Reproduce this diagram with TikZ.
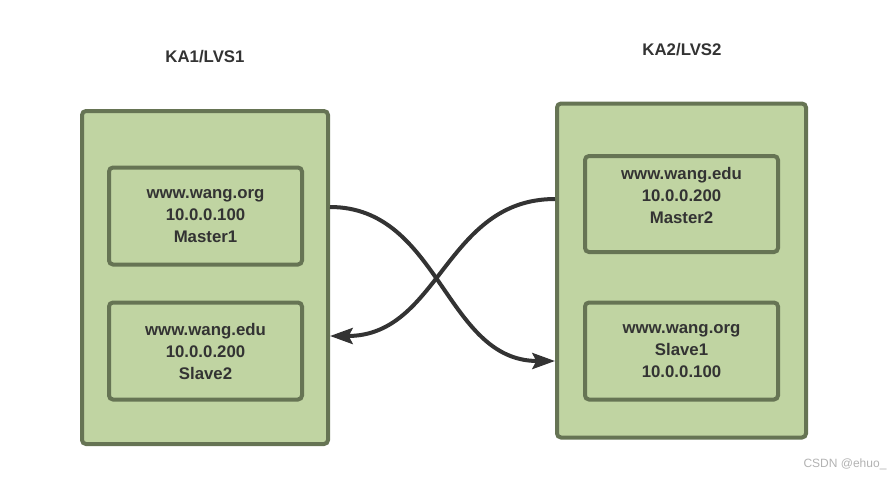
\documentclass[tikz,border=0pt]{standalone}
\usepackage{fontspec}
\setmainfont{Liberation Sans}
\usetikzlibrary{arrows.meta, positioning, calc}
\definecolor{BoxFill}{HTML}{C0D4A2}
\definecolor{BoxLine}{HTML}{667454}
\definecolor{TextGray}{HTML}{333333}
\definecolor{LinkGray}{HTML}{333333}

\begin{document}
\begin{tikzpicture}[>={Stealth[length=17pt, width=12pt, inset=3pt]}, x=0.75pt, y=-0.75pt,
    outer/.style={draw=BoxLine, fill=BoxFill, line width=3pt, rounded corners=3pt},
    inner/.style={draw=BoxLine, fill=BoxFill, line width=3pt, rounded corners=3pt,
        align=center, text=TextGray, font=\bfseries\fontsize{12.6}{16.5}\selectfont},
    innertext/.style={align=center, text=TextGray, inner sep=0pt, font=\bfseries\fontsize{12.6}{16.5}\selectfont},
    title/.style={text=TextGray, font=\bfseries\fontsize{12.6}{15}\selectfont},
    link/.style={->, draw=LinkGray, line width=3pt}]
        \useasboundingbox (0,0) rectangle (893,480);

        % Draw outer boxes
        \node[outer, minimum width=246*0.75pt, minimum height=333*0.75pt] (lvs1) at (205,277.5) {};
        \node[outer, minimum width=249*0.75pt, minimum height=334*0.75pt] (lvs2) at (681.5,270.5) {};

        % Titles
        \node[title] (t1) at (205,57) {KA1/LVS1};
        \node[title] (t2) at (682,50) {KA2/LVS2};

        % Draw inner boxes
        \node[inner, minimum width=193*0.75pt, minimum height=97*0.75pt] (master1) at (205.5,216) {www.wang.org\\10.0.0.100\\Master1};
        \node[inner, minimum width=193*0.75pt, minimum height=97*0.75pt] (slave2) at (205.5,351) {www.wang.edu\\10.0.0.200\\Slave2};
        \node[inner, minimum width=193*0.75pt, minimum height=96*0.75pt] (master2) at (681.5,204) {};
        \node[innertext, below=9.75pt of master2.north] (master2text) {www.wang.edu\\10.0.0.200\\Master2};
        \node[inner, minimum width=193*0.75pt, minimum height=97*0.75pt] (slave1) at (681.5,351) {www.wang.org\\Slave1\\10.0.0.100};

        % Link end points
        \coordinate (a1) at (lvs1.east |- 0,207);
        \coordinate (b1) at (lvs2.west |- 0,361);
        \coordinate (a2) at (lvs2.west |- 0,199);
        \coordinate (b2) at (lvs1.east |- 0,336);

        % Crossing links
        \draw[link] (a1) .. controls +(110,0) and +(-110,0) .. (b1);
        \draw[link] (a2) .. controls +(-110,0) and +(110,0) .. (b2);

        \node[text=gray!60, font=\fontsize{9}{10}\selectfont] (mark) at (845,464) {CSDN @ehuo\_};
    \end{tikzpicture}
\end{document}
